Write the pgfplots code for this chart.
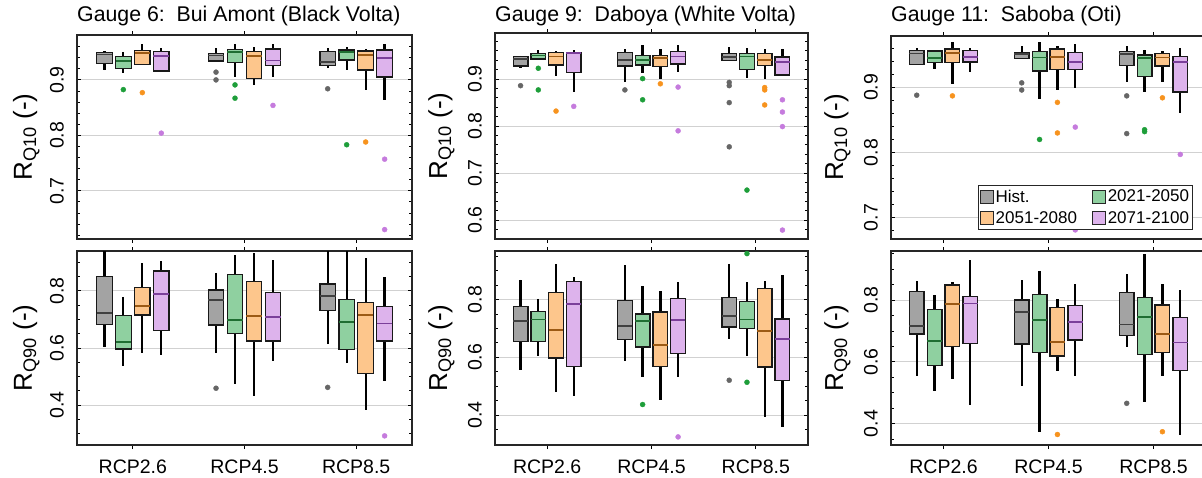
\documentclass[border=0pt]{standalone}
\usepackage{fontspec}
\setmainfont{Liberation Sans}
\usepackage{pgfplots}
\usepackage{pgfplotstable}
\usepgfplotslibrary{statistics}
\pgfplotsset{compat=1.18}

\definecolor{fH}{HTML}{A3A3A3}
\definecolor{fA}{HTML}{8FD0A0}
\definecolor{fB}{HTML}{FDC68C}
\definecolor{fC}{HTML}{DDB3EC}
\definecolor{mH}{HTML}{404040}
\definecolor{mA}{HTML}{1F6E32}
\definecolor{mB}{HTML}{9C5A14}
\definecolor{mC}{HTML}{7B3F9A}
\definecolor{oH}{HTML}{666666}
\definecolor{oA}{HTML}{1E9E3A}
\definecolor{oB}{HTML}{F7931E}
\definecolor{oC}{HTML}{C57BDD}

% outliers
\pgfplotstableread{
x y s
-0.085 0.8825 a
0.085 0.877 b
0.255 0.804 c
0.745 0.914 h
0.745 0.900 h
0.915 0.891 a
0.915 0.867 a
1.255 0.854 c
1.745 0.884 h
1.915 0.783 a
2.085 0.788 b
2.255 0.757 c
2.255 0.630 c
}\oPa
\pgfplotstableread{
x y s
0.745 0.459 h
1.745 0.462 h
2.255 0.292 c
}\oPb
\pgfplotstableread{
x y s
-0.255 0.886 h
-0.085 0.923 a
-0.085 0.877 a
0.085 0.832 b
0.255 0.842 c
0.745 0.877 h
0.915 0.901 a
0.915 0.856 a
1.085 0.890 b
1.255 0.883 c
1.255 0.790 c
1.745 0.893 h
1.745 0.886 h
1.745 0.850 h
1.745 0.756 h
1.915 0.664 a
2.085 0.882 b
2.085 0.877 b
2.085 0.845 b
2.255 0.856 c
2.255 0.830 c
2.255 0.799 c
2.255 0.579 c
}\oPc
\pgfplotstableread{
x y s
0.915 0.437 a
1.255 0.325 c
1.745 0.521 h
1.915 0.959 a
1.915 0.514 a
}\oPd
\pgfplotstableread{
x y s
-0.255 0.888 h
0.085 0.887 b
0.745 0.907 h
0.745 0.896 h
0.915 0.820 a
1.085 0.877 b
1.085 0.830 b
1.255 0.839 c
1.255 0.681 c
1.745 0.887 h
1.745 0.829 h
1.915 0.835 a
1.915 0.832 a
2.085 0.884 b
2.255 0.797 c
}\oPe
\pgfplotstableread{
x y s
1.085 0.365 b
1.745 0.466 h
2.085 0.374 b
}\oPf

\pgfplotsset{
  bxs/.style 2 args={draw=black!90, line width=1.3pt, fill=#1,
    boxplot/draw direction=y,
    boxplot/every box/.style={draw=black!90, line width=1.3pt},
    boxplot/every whisker/.style={draw=black, line width=2.3pt},
    boxplot/every median/.style={draw=#2, line width=1.8pt}},
  panel/.style={
    scale only axis, xmin=-0.5, xmax=2.5, xtick={0,1,2},
    boxplot/draw direction=y,
    xtick align=outside, ytick align=inside, xtick pos=both, ytick pos=both,
    major tick length=4pt, minor tick length=3pt,
    tick style={black, line width=0.9pt},
    axis line style={black!85, line width=1.4pt},
    ymajorgrids, major grid style={black!18, line width=1pt},
    /pgf/number format/assume math mode=true,
    /pgf/number format/fixed, /pgf/number format/precision=1,
    yticklabel style={rotate=90, anchor=south, inner sep=0pt, font=\fontsize{19.5}{22}\selectfont},
    yticklabel shift=13pt,
    xticklabel style={font=\fontsize{19.5}{22}\selectfont, inner sep=0pt, anchor=north},
    ylabel style={font=\fontsize{26}{30}\selectfont, anchor=base, inner sep=0pt},
    title style={at={(axis description cs:0,1)}, anchor=base west, inner sep=0pt, font=\fontsize{21.3}{25}\selectfont},
    scatter/classes={h={mark=*, draw=oH, fill=oH}, a={mark=*, draw=oA, fill=oA}, b={mark=*, draw=oB, fill=oB}, c={mark=*, draw=oC, fill=oC}},
  },
  toprow/.style={panel, anchor=north west, ytick={0.6,0.7,0.8,0.9}, minor ytick={0.5,0.52,...,1.0},
    xticklabels={,,}, ylabel={R\textsubscript{Q10} (-)}},
  botrow/.style={panel, anchor=north west, height=194pt, ytick={0.4,0.6,0.8}, minor ytick={0.25,0.3,...,0.95},
    xticklabels={RCP2.6,RCP4.5,RCP8.5}, xticklabel shift=11pt, ylabel={R\textsubscript{Q90} (-)}},
}

% one prepared box: position, fill, median colour, lower whisker, lower quartile, median, upper quartile, upper whisker
\newcommand{\bxp}[8]{\addplot[bxs={#2}{#3}, boxplot prepared={draw position=#1, lower whisker=#4, lower quartile=#5, median=#6, upper quartile=#7, upper whisker=#8, box extend=0.14, whisker extend=0}] coordinates {};}
\newcommand{\bH}[6]{\bxp{#1}{fH}{mH}{#2}{#3}{#4}{#5}{#6}}
\newcommand{\bA}[6]{\bxp{#1}{fA}{mA}{#2}{#3}{#4}{#5}{#6}}
\newcommand{\bB}[6]{\bxp{#1}{fB}{mB}{#2}{#3}{#4}{#5}{#6}}
\newcommand{\bC}[6]{\bxp{#1}{fC}{mC}{#2}{#3}{#4}{#5}{#6}}
\newcommand{\outs}[1]{%
  \addplot[scatter, only marks, scatter src=explicit symbolic, mark size=2.5pt] table[x=x, y=y, meta=s] {#1};%
}

\begin{document}
\begin{tikzpicture}
\path[use as bounding box] (0,0) rectangle (1202pt,-477pt);
\clip (0,0) rectangle (1202pt,-477pt);

% Gauge 6
\begin{axis}[toprow, at={(77pt,-35pt)}, width=335pt, height=204pt, ymin=0.613, ymax=0.981,
  title={Gauge 6:\ \ Bui Amont (Black Volta)}, title style={yshift=8pt},
  ylabel style={at={([xshift=-45pt]axis description cs:0,0.5)}}]
\bH{-0.255}{0.917}{0.929}{0.946}{0.950}{0.952}
\bA{-0.085}{0.913}{0.921}{0.934}{0.942}{0.951}
\bB{0.085}{0.927}{0.928}{0.948}{0.953}{0.965}
\bC{0.255}{0.916}{0.916}{0.943}{0.951}{0.958}
\bH{0.745}{0.934}{0.934}{0.944}{0.948}{0.957}
\bA{0.915}{0.905}{0.932}{0.950}{0.955}{0.965}
\bB{1.085}{0.890}{0.902}{0.943}{0.951}{0.960}
\bC{1.255}{0.905}{0.926}{0.935}{0.956}{0.964}
\bH{1.745}{0.921}{0.926}{0.933}{0.951}{0.957}
\bA{1.915}{0.918}{0.936}{0.950}{0.954}{0.960}
\bB{2.085}{0.882}{0.918}{0.945}{0.952}{0.955}
\bC{2.255}{0.864}{0.905}{0.939}{0.954}{0.964}
\outs{\oPa}
\end{axis}
\begin{axis}[botrow, at={(77pt,-251pt)}, width=335pt, ymin=0.26, ymax=0.94,
  ylabel style={at={([xshift=-45pt]axis description cs:0,0.5)}}]
\bH{-0.255}{0.603}{0.683}{0.722}{0.850}{0.950}
\bA{-0.085}{0.538}{0.596}{0.620}{0.714}{0.780}
\bB{0.085}{0.582}{0.716}{0.748}{0.812}{0.897}
\bC{0.255}{0.574}{0.661}{0.788}{0.870}{0.906}
\bH{0.745}{0.584}{0.681}{0.767}{0.803}{0.864}
\bA{0.915}{0.473}{0.650}{0.699}{0.858}{0.926}
\bB{1.085}{0.433}{0.625}{0.711}{0.834}{0.934}
\bC{1.255}{0.555}{0.625}{0.708}{0.795}{0.908}
\bH{1.745}{0.613}{0.732}{0.783}{0.824}{0.950}
\bA{1.915}{0.547}{0.594}{0.692}{0.771}{0.950}
\bB{2.085}{0.384}{0.510}{0.716}{0.760}{0.914}
\bC{2.255}{0.483}{0.625}{0.686}{0.746}{0.848}
\outs{\oPb}
\end{axis}

% Gauge 9
\begin{axis}[toprow, at={(495pt,-33pt)}, width=313pt, height=206pt, ymin=0.56, ymax=0.998,
  title={Gauge 9:\ \ Daboya (White Volta)}, title style={yshift=6pt},
  ylabel style={at={([xshift=-48pt]axis description cs:0,0.5)}}]
\bH{-0.255}{0.923}{0.928}{0.943}{0.948}{0.950}
\bA{-0.085}{0.943}{0.943}{0.950}{0.955}{0.961}
\bB{0.085}{0.907}{0.930}{0.948}{0.957}{0.959}
\bC{0.255}{0.872}{0.914}{0.955}{0.957}{0.961}
\bH{0.745}{0.893}{0.928}{0.941}{0.957}{0.963}
\bA{0.915}{0.914}{0.930}{0.941}{0.950}{0.972}
\bB{1.085}{0.901}{0.927}{0.945}{0.950}{0.963}
\bC{1.255}{0.916}{0.932}{0.948}{0.958}{0.972}
\bH{1.745}{0.938}{0.940}{0.947}{0.954}{0.968}
\bA{1.915}{0.902}{0.920}{0.948}{0.954}{0.966}
\bB{2.085}{0.901}{0.929}{0.941}{0.954}{0.965}
\bC{2.255}{0.909}{0.909}{0.936}{0.947}{0.965}
\outs{\oPc}
\end{axis}
\begin{axis}[botrow, at={(495pt,-251pt)}, width=313pt, ymin=0.297, ymax=0.968,
  ylabel style={at={([xshift=-48pt]axis description cs:0,0.5)}}]
\bH{-0.255}{0.556}{0.654}{0.725}{0.775}{0.869}
\bA{-0.085}{0.606}{0.656}{0.731}{0.759}{0.803}
\bB{0.085}{0.481}{0.598}{0.694}{0.825}{0.924}
\bC{0.255}{0.467}{0.569}{0.786}{0.863}{0.878}
\bH{0.745}{0.587}{0.663}{0.709}{0.798}{0.919}
\bA{0.915}{0.533}{0.636}{0.726}{0.750}{0.847}
\bB{1.085}{0.454}{0.568}{0.642}{0.757}{0.830}
\bC{1.255}{0.533}{0.613}{0.729}{0.803}{0.861}
\bH{1.745}{0.662}{0.705}{0.742}{0.806}{0.924}
\bA{1.915}{0.604}{0.699}{0.731}{0.794}{0.861}
\bB{2.085}{0.394}{0.567}{0.690}{0.838}{0.863}
\bC{2.255}{0.360}{0.519}{0.664}{0.733}{0.884}
\outs{\oPd}
\end{axis}

% Gauge 11
\begin{axis}[toprow, at={(891pt,-36pt)}, width=315pt, height=203pt, ymin=0.667, ymax=0.979,
  title={Gauge 11:\ \ Saboba (Oti)}, title style={yshift=9pt},
  ylabel style={at={([xshift=-48pt]axis description cs:0,0.5)}},
  legend columns=2, legend cell align=left,
  legend image code/.code={\draw[#1, draw=black!85, line width=0.8pt] (0pt,-6.5pt) rectangle (13pt,6.5pt);},
  legend style={at={(axis description cs:0.959,0.044)}, anchor=south east, draw=black!85, line width=1pt,
    font=\fontsize{17}{19}\selectfont, inner xsep=2pt, inner ysep=3pt, row sep=5pt,
    nodes={inner sep=1.5pt},
    /tikz/every even column/.append style={column sep=14pt}}]
\addlegendimage{fill=fH}\addlegendentry{Hist.}
\addlegendimage{fill=fA}\addlegendentry{2021-2050}
\addlegendimage{fill=fB}\addlegendentry{2051-2080}
\addlegendimage{fill=fC}\addlegendentry{2071-2100}
\bH{-0.255}{0.935}{0.935}{0.952}{0.957}{0.960}
\bA{-0.085}{0.929}{0.938}{0.945}{0.956}{0.957}
\bB{0.085}{0.906}{0.938}{0.953}{0.959}{0.970}
\bC{0.255}{0.923}{0.939}{0.947}{0.957}{0.960}
\bH{0.745}{0.944}{0.944}{0.951}{0.954}{0.963}
\bA{0.915}{0.882}{0.925}{0.946}{0.955}{0.970}
\bB{1.085}{0.896}{0.927}{0.947}{0.959}{0.964}
\bC{1.255}{0.899}{0.927}{0.939}{0.954}{0.966}
\bH{1.745}{0.909}{0.934}{0.951}{0.955}{0.963}
\bA{1.915}{0.893}{0.917}{0.945}{0.950}{0.958}
\bB{2.085}{0.909}{0.933}{0.946}{0.952}{0.956}
\bC{2.255}{0.860}{0.893}{0.939}{0.947}{0.961}
\outs{\oPe}
\end{axis}
\begin{axis}[botrow, at={(891pt,-251pt)}, width=315pt, ymin=0.331, ymax=0.959,
  ylabel style={at={([xshift=-48pt]axis description cs:0,0.5)}}]
\bH{-0.255}{0.555}{0.690}{0.716}{0.827}{0.863}
\bA{-0.085}{0.506}{0.589}{0.667}{0.770}{0.818}
\bB{0.085}{0.544}{0.651}{0.787}{0.849}{0.859}
\bC{0.255}{0.460}{0.660}{0.789}{0.811}{0.929}
\bH{0.745}{0.523}{0.658}{0.762}{0.800}{0.865}
\bA{0.915}{0.374}{0.631}{0.735}{0.818}{0.894}
\bB{1.085}{0.570}{0.619}{0.665}{0.775}{0.803}
\bC{1.255}{0.554}{0.671}{0.728}{0.782}{0.852}
\bH{1.745}{0.649}{0.685}{0.721}{0.824}{0.886}
\bA{1.915}{0.471}{0.624}{0.746}{0.808}{0.950}
\bB{2.085}{0.555}{0.630}{0.690}{0.784}{0.852}
\bC{2.255}{0.363}{0.573}{0.663}{0.743}{0.832}
\outs{\oPf}
\end{axis}
\end{tikzpicture}
\end{document}
